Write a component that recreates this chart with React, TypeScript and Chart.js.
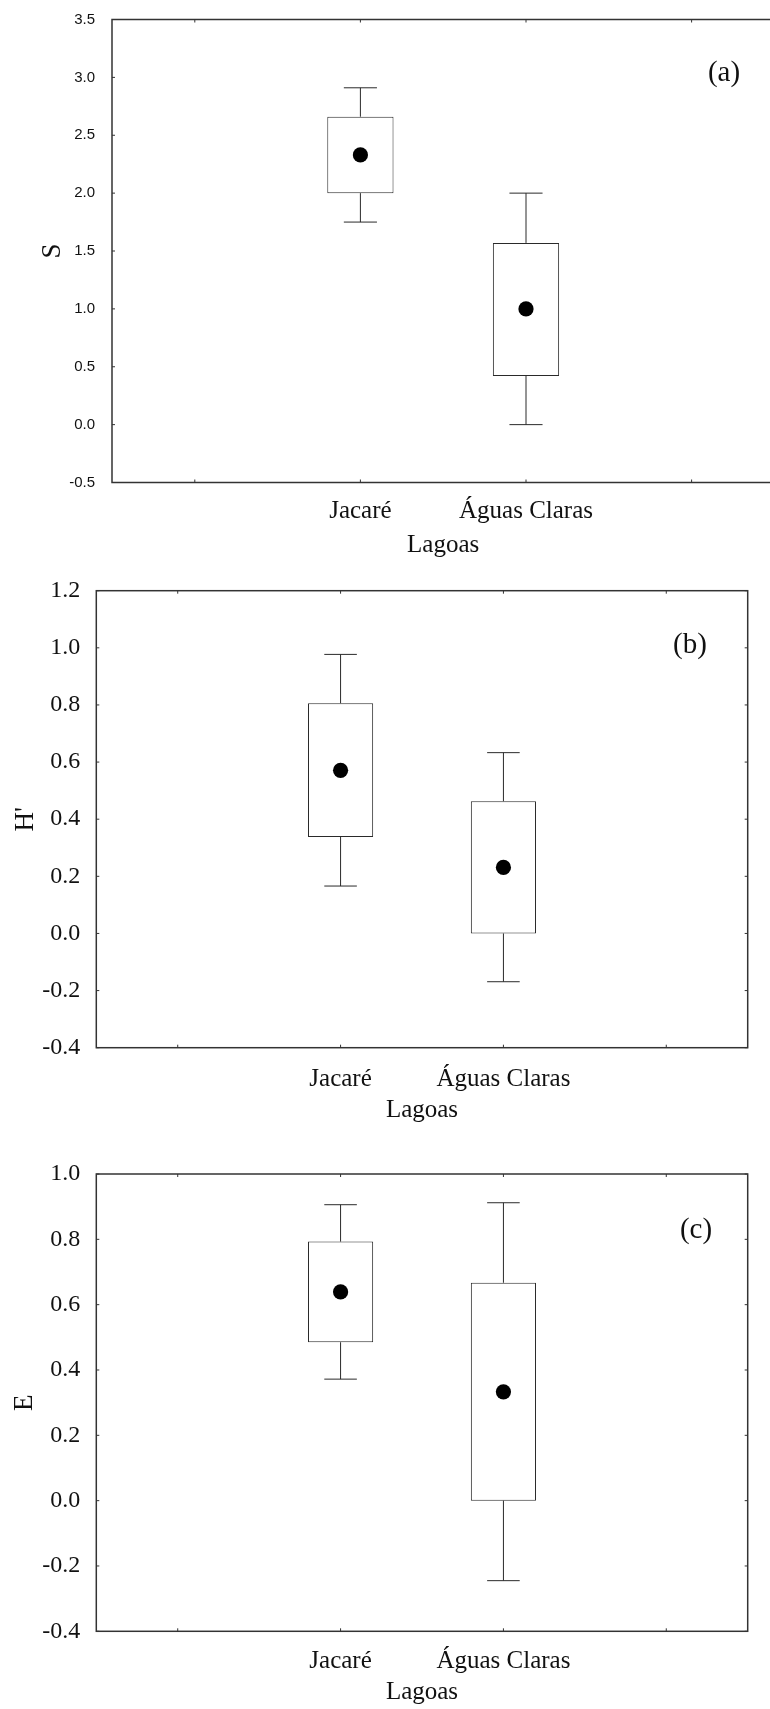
import React, { useEffect, useRef } from 'react';
import { Chart, registerables } from 'chart.js';

Chart.register(...registerables);

// Lagoons on the x axis; outer empty slots give the padded category layout
const lagoas = ['Jacaré', 'Águas Claras'];
const xTickLabels = ['', ...lagoas, ''];

// Species richness (S): mean, box (± SE) and whiskers (± SD)
const sMean = [2.33, 1.0];
const sBoxLow = [2.0, 0.42];
const sBoxHigh = [2.66, 1.57];
const sWhiskerLow = [1.75, 0.0];
const sWhiskerHigh = [2.91, 2.0];

// Shannon diversity (H')
const hMean = [0.571, 0.231];
const hBoxLow = [0.338, 0.0];
const hBoxHigh = [0.806, 0.463];
const hWhiskerLow = [0.166, -0.169];
const hWhiskerHigh = [0.977, 0.633];

// Evenness (E)
const eMean = [0.639, 0.333];
const eBoxLow = [0.485, 0.0];
const eBoxHigh = [0.793, 0.667];
const eWhiskerLow = [0.372, -0.245];
const eWhiskerHigh = [0.906, 0.912];

const SERIF = '"Liberation Serif", "Times New Roman", Times, serif';
const SANS = '"Liberation Sans", Arial, Helvetica, sans-serif';
const INK = '#111';
const LINE = '#2a2a2a';

type PanelSpec = {
  tag: string;
  yTitle: string;
  mean: number[];
  boxLow: number[];
  boxHigh: number[];
  whiskerLow: number[];
  whiskerHigh: number[];
  yMin: number;
  yMax: number;
  yStep: number;
  tickFont: { family: string; size: number };
  yTickPad: number;
  yTitlePad: number;
  xTickPad: number;
  xTitlePad: number;
  canvasW: number;
  canvasH: number;
  viewW: number;
  area: { left: number; top: number; right: number; bottom: number };
  tagPos: { x: number; y: number };
};

const pad = (arr: any[]) => [null, ...arr, null];

// one decimal, without a stray "-0.0" from floating point noise
const fmtTick = (v: any) => (Math.round(Number(v) * 10) / 10 + 0).toFixed(1);

function BoxPanel({ spec }: { spec: PanelSpec }) {
  const ref = useRef<HTMLCanvasElement>(null);

  useEffect(() => {
    const canvas = ref.current;
    if (!canvas) return;

    // whiskers, frame with inward ticks, and the panel tag
    const decorations = {
      id: 'boxDecor',
      afterDatasetsDraw(chart: any) {
        const { ctx } = chart;
        const xs = chart.scales.x;
        const ys = chart.scales.y;
        const catW = xs.getPixelForValue(1) - xs.getPixelForValue(0);
        const cap = catW * 0.2;
        ctx.save();
        ctx.strokeStyle = LINE;
        ctx.lineWidth = 1;
        spec.mean.forEach((_, i) => {
          const px = xs.getPixelForValue(i + 1);
          const yHi = ys.getPixelForValue(spec.whiskerHigh[i]);
          const yLo = ys.getPixelForValue(spec.whiskerLow[i]);
          const bHi = ys.getPixelForValue(spec.boxHigh[i]);
          const bLo = ys.getPixelForValue(spec.boxLow[i]);
          ctx.beginPath();
          ctx.moveTo(px, bHi);
          ctx.lineTo(px, yHi);
          ctx.moveTo(px - cap / 2, yHi);
          ctx.lineTo(px + cap / 2, yHi);
          ctx.moveTo(px, bLo);
          ctx.lineTo(px, yLo);
          ctx.moveTo(px - cap / 2, yLo);
          ctx.lineTo(px + cap / 2, yLo);
          ctx.stroke();
        });
        ctx.restore();
      },
      afterDraw(chart: any) {
        const { ctx, chartArea } = chart;
        const { left, top, right, bottom } = chartArea;
        const xs = chart.scales.x;
        const ys = chart.scales.y;
        const tl = 3;
        ctx.save();
        ctx.strokeStyle = '#333';
        ctx.lineWidth = 1.5;
        ctx.strokeRect(left, top, right - left, bottom - top);
        ctx.lineWidth = 1;
        ctx.beginPath();
        xs.ticks.forEach((_: any, i: number) => {
          const px = xs.getPixelForTick(i);
          ctx.moveTo(px, bottom);
          ctx.lineTo(px, bottom - tl);
          ctx.moveTo(px, top);
          ctx.lineTo(px, top + tl);
        });
        ys.ticks.forEach((_: any, i: number) => {
          const py = ys.getPixelForTick(i);
          ctx.moveTo(left, py);
          ctx.lineTo(left + tl, py);
          ctx.moveTo(right, py);
          ctx.lineTo(right - tl, py);
        });
        ctx.stroke();
        ctx.fillStyle = INK;
        ctx.font = `29px ${SERIF}`;
        ctx.textAlign = 'center';
        ctx.textBaseline = 'middle';
        ctx.fillText(spec.tag, spec.tagPos.x, spec.tagPos.y);
        ctx.restore();
      },
    };

    const a = spec.area;
    const chart = new Chart(canvas, {
      type: 'bar',
      data: {
        labels: xTickLabels,
        datasets: [
          {
            type: 'line',
            data: pad(spec.mean),
            showLine: false,
            pointRadius: 7.6,
            pointBackgroundColor: '#000',
            pointBorderWidth: 0,
            order: 0,
          } as any,
          {
            type: 'bar',
            data: pad(spec.boxLow.map((lo, i) => [lo, spec.boxHigh[i]])),
            backgroundColor: '#fff',
            borderColor: LINE,
            borderWidth: 1,
            borderSkipped: false,
            barPercentage: 0.4,
            categoryPercentage: 1,
            order: 1,
          } as any,
        ],
      },
      options: {
        responsive: false,
        maintainAspectRatio: false,
        animation: false,
        layout: {
          padding: { left: 0, top: a.top, right: spec.canvasW - a.right, bottom: 0 },
        },
        plugins: {
          legend: { display: false },
          tooltip: { enabled: false },
        },
        scales: {
          x: {
            type: 'category',
            offset: true,
            grid: { display: false },
            border: { display: false },
            ticks: {
              autoSkip: false,
              maxRotation: 0,
              minRotation: 0,
              padding: spec.xTickPad,
              color: INK,
              font: { family: SERIF, size: 25, lineHeight: 1 },
            },
            title: {
              display: true,
              text: 'Lagoas',
              color: INK,
              font: { family: SERIF, size: 25, lineHeight: 1 },
              padding: { top: 0, bottom: spec.xTitlePad },
            },
            afterFit: (s: any) => {
              s.height = spec.canvasH - a.bottom;
            },
          },
          y: {
            type: 'linear',
            min: spec.yMin,
            max: spec.yMax,
            grid: { display: false },
            border: { display: false },
            ticks: {
              stepSize: spec.yStep,
              padding: spec.yTickPad,
              color: INK,
              font: { ...spec.tickFont, lineHeight: 1 },
              callback: fmtTick,
            },
            title: {
              display: true,
              text: spec.yTitle,
              color: INK,
              font: { family: SERIF, size: 27, lineHeight: 1 },
              padding: { top: spec.yTitlePad, bottom: 0 },
            },
            afterFit: (s: any) => {
              s.width = a.left;
            },
          },
        },
      },
      plugins: [decorations],
    });

    return () => chart.destroy();
  }, [spec]);

  return (
    <div style={{ width: spec.viewW, height: spec.canvasH, overflow: 'hidden' }}>
      <canvas ref={ref} width={spec.canvasW} height={spec.canvasH} style={{ display: 'block' }} />
    </div>
  );
}

const panels: PanelSpec[] = [
  {
    tag: '(a)',
    yTitle: 'S',
    mean: sMean,
    boxLow: sBoxLow,
    boxHigh: sBoxHigh,
    whiskerLow: sWhiskerLow,
    whiskerHigh: sWhiskerHigh,
    yMin: -0.5,
    yMax: 3.5,
    yStep: 0.5,
    tickFont: { family: SANS, size: 15 },
    yTickPad: 9,
    yTitlePad: 39,
    xTickPad: 8.5,
    xTitlePad: 2.5,
    canvasW: 782,
    canvasH: 560,
    viewW: 770,
    area: { left: 112, top: 19.5, right: 776, bottom: 482.5 },
    tagPos: { x: 724, y: 73 },
  },
  {
    tag: '(b)',
    yTitle: "H'",
    mean: hMean,
    boxLow: hBoxLow,
    boxHigh: hBoxHigh,
    whiskerLow: hWhiskerLow,
    whiskerHigh: hWhiskerHigh,
    yMin: -0.4,
    yMax: 1.2,
    yStep: 0.2,
    tickFont: { family: SERIF, size: 24 },
    yTickPad: 8,
    yTitlePad: 12,
    xTickPad: 11,
    xTitlePad: 17,
    canvasW: 770,
    canvasH: 580,
    viewW: 770,
    area: { left: 96.3, top: 30.7, right: 747.7, bottom: 487.7 },
    tagPos: { x: 690, y: 85 },
  },
  {
    tag: '(c)',
    yTitle: 'E',
    mean: eMean,
    boxLow: eBoxLow,
    boxHigh: eBoxHigh,
    whiskerLow: eWhiskerLow,
    whiskerHigh: eWhiskerHigh,
    yMin: -0.4,
    yMax: 1.0,
    yStep: 0.2,
    tickFont: { family: SERIF, size: 24 },
    yTickPad: 8,
    yTitlePad: 11,
    xTickPad: 9.5,
    xTitlePad: 4,
    canvasW: 770,
    canvasH: 569,
    viewW: 770,
    area: { left: 96.3, top: 34, right: 747.7, bottom: 491.3 },
    tagPos: { x: 696, y: 90 },
  },
];

export default function App() {
  useEffect(() => {
    document.body.style.margin = '0';
    document.body.style.background = '#fff';
  }, []);
  return (
    <div style={{ width: 770, background: '#fff' }}>
      {panels.map((p) => (
        <BoxPanel key={p.tag} spec={p} />
      ))}
    </div>
  );
}
